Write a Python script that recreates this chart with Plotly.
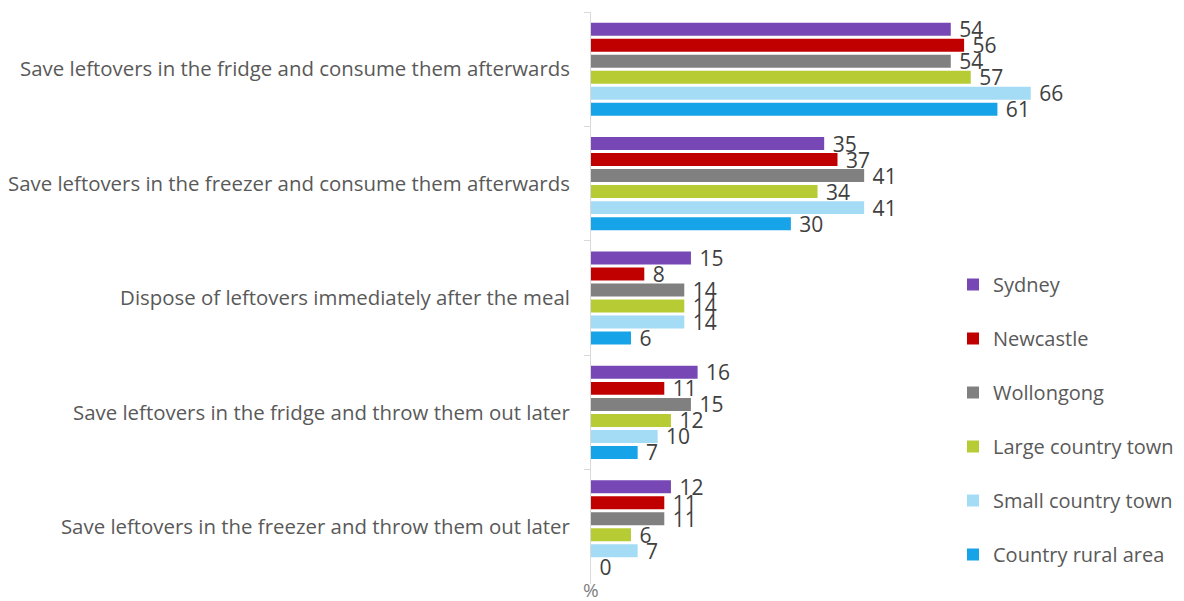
import plotly.graph_objects as go

categories = [
    "Save leftovers in the fridge and consume them afterwards",
    "Save leftovers in the freezer and consume them afterwards",
    "Dispose of leftovers immediately after the meal",
    "Save leftovers in the fridge and throw them out later",
    "Save leftovers in the freezer and throw them out later",
]
series_names = ["Sydney", "Newcastle", "Wollongong", "Large country town",
                "Small country town", "Country rural area"]
sydney = [54, 35, 15, 16, 12]
newcastle = [56, 37, 8, 11, 11]
wollongong = [54, 41, 14, 15, 11]
large_town = [57, 34, 14, 12, 6]
small_town = [66, 41, 14, 10, 7]
rural = [61, 30, 6, 7, 0]
values = [sydney, newcastle, wollongong, large_town, small_town, rural]
colors = ["#7747B5", "#C00000", "#808080", "#B7CB35", "#A5DCF5", "#16A3E7"]

fig = go.Figure()
for name, vals, col in zip(series_names, values, colors):
    fig.add_trace(go.Bar(
        y=categories, x=vals, name=name, orientation="h",
        marker=dict(color=col, line=dict(width=0)),
        text=[" " + str(v) for v in vals], textposition="outside",
        textfont=dict(size=21, color="#404040"),
        constraintext="none", cliponaxis=False,
        legendgroup=name,
    ))

# page body has an 8px margin; positions below are page pixels minus 8
OFF = 8
W, H = 1184 - OFF, 601 - OFF
left, right, top, bottom = 591 - OFF, 1124 - OFF, 12 - OFF, 584 - OFF
plot_h = bottom - top
fig.update_layout(
    width=W, height=H,
    margin=dict(l=left, r=W - right, t=top, b=H - bottom, autoexpand=False),
    paper_bgcolor="white", plot_bgcolor="white",
    barmode="group", bargap=0.16, bargroupgap=0.19,
    font=dict(family="Open Sans", size=20, color="#595959"),
    showlegend=True,
    legend=dict(
        xref="container", yref="container", x=(953 - OFF) / W,
        y=1 - (265 - OFF) / H,
        xanchor="left", yanchor="top",
        traceorder="grouped", tracegroupgap=25,
        maxheight=1,
        font=dict(size=20, color="#595959"),
        bgcolor="rgba(0,0,0,0)",
    ),
    xaxis=dict(range=[0, 80], showticklabels=False, showgrid=False,
               zeroline=False, showline=False, ticks=""),
    yaxis=dict(autorange="reversed", showline=True, linecolor="#D9D9D9",
               linewidth=1, ticks="outside", tickson="boundaries",
               ticklen=6, tickcolor="#D9D9D9", showgrid=False,
               ticklabelstandoff=16,
               tickfont=dict(size=20.4, color="#595959")),
    annotations=[dict(text="%", x=0, xref="x", y=-6 / plot_h, yref="paper",
                      xanchor="center", yanchor="middle", showarrow=False,
                      font=dict(size=19, color="#7F7F7F"))],
)

fig.write_html("out.html")
